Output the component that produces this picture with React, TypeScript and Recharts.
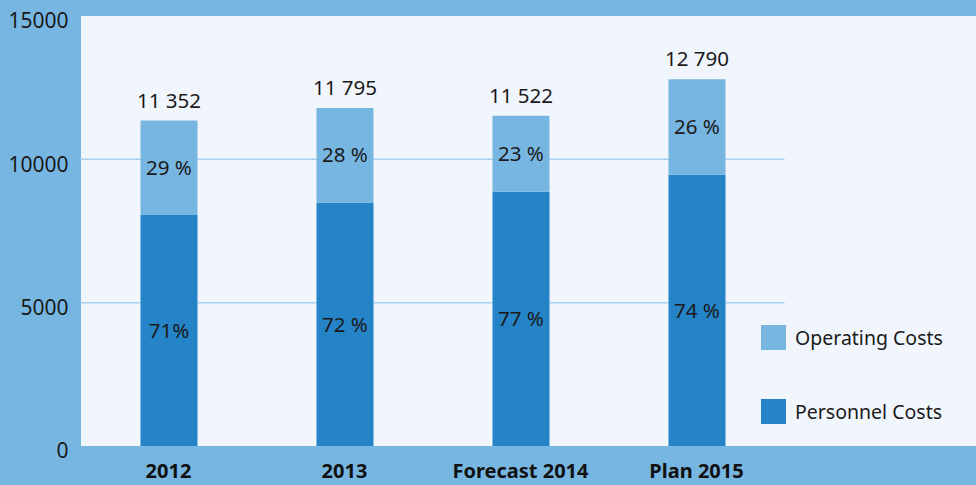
import { Bar, BarChart, CartesianGrid, LabelList, XAxis, YAxis } from 'recharts'

const CATEGORIES = ['2012', '2013', 'Forecast 2014', 'Plan 2015']
const PERSONNEL = [8060, 8492, 8872, 9465]
const OPERATING = [3292, 3303, 2650, 3325]
const TOTAL_LABELS = ['11 352', '11 795', '11 522', '12 790']
const PERSONNEL_PCT = ['71%', '72 %', '77 %', '74 %']
const OPERATING_PCT = ['29 %', '28 %', '23 %', '26 %']
const Y_TICKS = [0, 5000, 10000, 15000]

const DARK = '#2584c7'
const LIGHT = '#78b6e2'
const PANEL = '#f1f6fd'
const FONT = '"Noto Sans", "Open Sans", sans-serif'
const LABEL_STYLE = { fontSize: 20.5, fill: '#1a1a1a', fontFamily: FONT }

const data = CATEGORIES.map((name, i) => ({
  name,
  personnel: PERSONNEL[i],
  operating: OPERATING[i],
  total: TOTAL_LABELS[i],
  persPct: PERSONNEL_PCT[i],
  opPct: OPERATING_PCT[i],
}))

function LegendBox() {
  const items = [
    { label: 'Operating Costs', color: LIGHT },
    { label: 'Personnel Costs', color: DARK },
  ]
  return (
    <div style={{ position: 'absolute', left: 761, top: 325, fontFamily: FONT }}>
      {items.map((it, i) => (
        <div key={it.label} style={{ display: 'flex', alignItems: 'center', height: 25, marginTop: i ? 49 : 0 }}>
          <span style={{ width: 25, height: 25, background: it.color, display: 'inline-block' }} />
          <span style={{ marginLeft: 9, fontSize: 19.5, color: '#1a1a1a' }}>{it.label}</span>
        </div>
      ))}
    </div>
  )
}

export default function App() {
  return (
    <div style={{ position: 'relative', width: 976, height: 485, background: LIGHT, fontFamily: FONT }}>
      <style>{'body{margin:0}'}</style>
      <div style={{ position: 'absolute', left: 81, top: 16, width: 895, height: 430, background: PANEL }} />
      <div style={{ position: 'absolute', left: 0, top: 0 }}>
        <BarChart width={976} height={485} data={data} margin={{ top: 16, right: 191.5, left: 0, bottom: 0 }} barSize={57}>
          <CartesianGrid vertical={false} horizontalValues={[5000, 10000]} stroke="#a9d0ee" strokeWidth={1.5} />
          <XAxis
            dataKey="name"
            axisLine={false}
            tickLine={false}
            height={39}
            tickMargin={12}
            tick={{ fontSize: 20, fontWeight: 700, fill: '#111', fontFamily: FONT }}
          />
          <YAxis
            width={80.5}
            domain={[0, 15000]}
            ticks={Y_TICKS}
            axisLine={false}
            tickLine={false}
            tickMargin={6}
            tick={{ fontSize: 21, fill: '#1a1a1a', fontFamily: FONT, dy: 5 }}
          />
          <Bar dataKey="personnel" stackId="a" fill={DARK} isAnimationActive={false}>
            <LabelList dataKey="persPct" position="center" style={LABEL_STYLE} />
          </Bar>
          <Bar dataKey="operating" stackId="a" fill={LIGHT} isAnimationActive={false}>
            <LabelList dataKey="opPct" position="center" style={LABEL_STYLE} />
            <LabelList dataKey="total" position="top" offset={13} style={LABEL_STYLE} />
          </Bar>
        </BarChart>
      </div>
      <LegendBox />
    </div>
  )
}
